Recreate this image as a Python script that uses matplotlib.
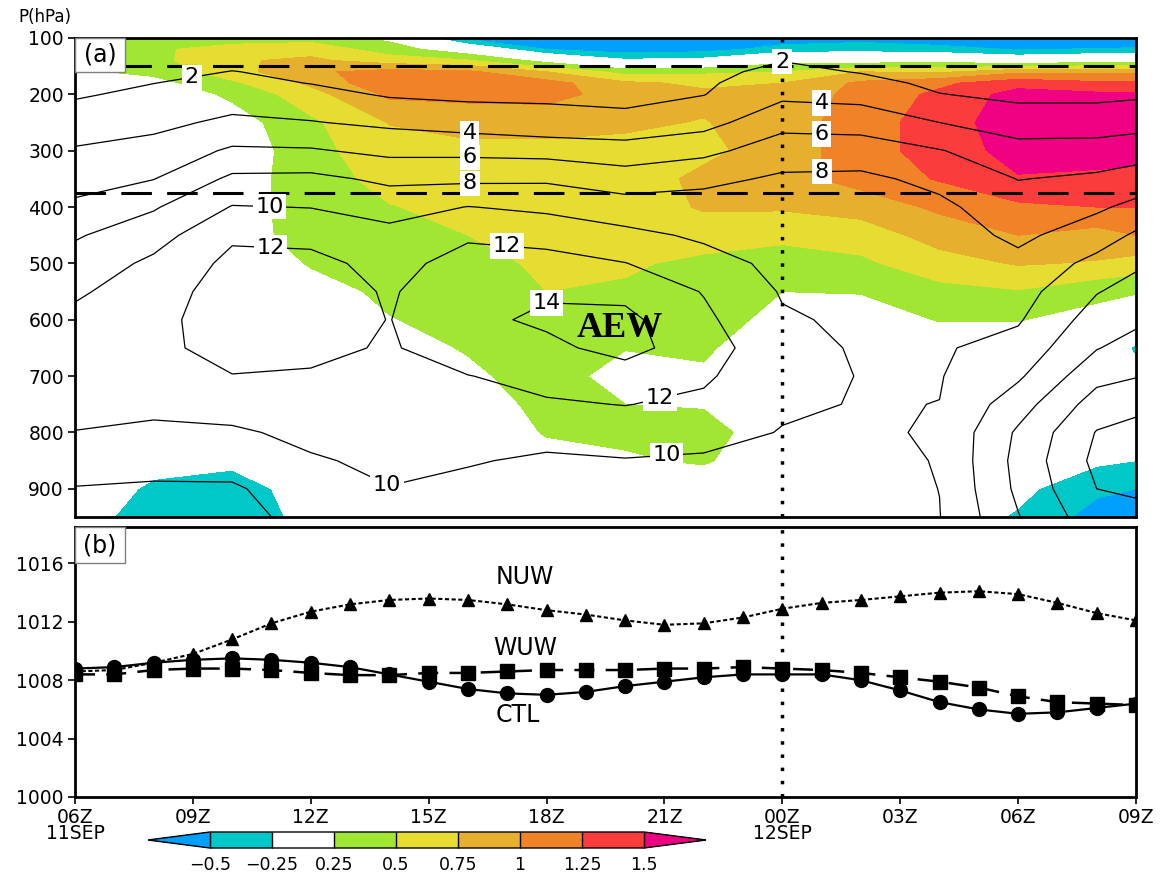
import numpy as np
import matplotlib
matplotlib.use("Agg")
import matplotlib.pyplot as plt
from matplotlib.colors import ListedColormap, BoundaryNorm
from matplotlib.patches import Rectangle

plt.rcParams['font.family'] = ['DejaVu Sans']

# ---------------- data ----------------
# panel (a) grid: hours since 06Z 11SEP, pressure levels (hPa)
hours = [0, 2, 4, 6, 8, 10, 12, 14, 16, 18, 20, 22, 24, 26, 27]
pres = [100, 120, 140, 160, 180, 200, 250, 300, 350, 400, 450, 500,
        550, 600, 650, 700, 750, 800, 850, 900, 950]

# shaded field, one column per time (top -> bottom)
shade_h00 = [0.35, 0.35, 0.3, 0.2, 0.1, 0.05, 0.0, 0.0, 0.0, 0.0, 0.0, 0.0, 0.0, 0.0, 0.0, 0.0, 0.0, 0.0, 0.0, -0.05, -0.1]
shade_h02 = [0.4, 0.45, 0.42, 0.32, 0.15, 0.05, 0.0, 0.0, 0.0, 0.0, 0.0, 0.0, 0.0, 0.0, 0.0, 0.0, 0.0, 0.0, -0.15, -0.3, -0.4]
shade_h04 = [0.35, 0.62, 0.72, 0.65, 0.45, 0.3, 0.12, 0.05, 0.1, 0.12, 0.1, 0.05, 0.0, 0.0, 0.0, 0.0, 0.0, 0.0, -0.2, -0.35, -0.35]
shade_h06 = [0.4, 0.65, 0.8, 0.95, 0.8, 0.65, 0.45, 0.42, 0.4, 0.38, 0.38, 0.27, 0.15, 0.05, 0.0, 0.0, 0.0, 0.0, -0.05, -0.15, -0.2]
shade_h08 = [0.18, 0.38, 0.62, 1.1, 1.2, 1.05, 0.76, 0.65, 0.57, 0.49, 0.42, 0.36, 0.3, 0.24, 0.15, 0.08, 0.0, 0.0, 0.0, -0.05, -0.05]
shade_h10 = [-0.6, 0.05, 0.52, 1.05, 1.15, 1.08, 0.82, 0.7, 0.62, 0.56, 0.5, 0.44, 0.38, 0.32, 0.27, 0.2, 0.1, 0.05, 0.0, 0.0, 0.0]
shade_h12 = [-0.8, -0.5, 0.15, 0.75, 1.1, 1.1, 0.82, 0.7, 0.64, 0.6, 0.56, 0.53, 0.5, 0.45, 0.4, 0.36, 0.33, 0.27, 0.15, 0.05, 0.0]
shade_h14 = [-0.85, -0.65, -0.2, 0.4, 0.8, 0.88, 0.78, 0.7, 0.64, 0.59, 0.55, 0.53, 0.47, 0.33, 0.26, 0.15, 0.25, 0.3, 0.22, 0.05, 0.0]
shade_h16 = [-0.8, -0.6, -0.15, 0.45, 0.7, 0.8, 0.74, 0.7, 0.8, 0.78, 0.6, 0.45, 0.37, 0.32, 0.28, 0.22, 0.23, 0.34, 0.28, 0.08, 0.0]
shade_h18 = [-0.65, -0.4, 0.15, 0.5, 0.75, 0.8, 0.85, 0.85, 0.9, 0.78, 0.56, 0.38, 0.25, 0.2, 0.1, 0.05, 0.05, 0.1, 0.05, 0.0, 0.0]
shade_h20 = [-0.6, -0.35, 0.1, 0.75, 1.05, 1.1, 1.15, 1.15, 1.1, 0.85, 0.62, 0.45, 0.26, 0.15, 0.1, 0.05, 0.0, 0.0, 0.0, 0.0, 0.0]
shade_h22 = [-0.65, -0.42, 0.15, 0.7, 1.2, 1.3, 1.35, 1.35, 1.27, 1.05, 0.85, 0.65, 0.42, 0.26, 0.12, 0.05, 0.0, 0.0, 0.0, -0.05, -0.1]
shade_h24 = [-0.75, -0.52, 0.0, 0.95, 1.4, 1.6, 1.68, 1.6, 1.48, 1.2, 1.0, 0.77, 0.48, 0.26, 0.12, 0.05, 0.0, -0.05, -0.1, -0.18, -0.28]
shade_h26 = [-0.8, -0.48, 0.1, 0.95, 1.3, 1.55, 1.75, 1.66, 1.42, 1.25, 0.9, 0.73, 0.32, 0.15, 0.05, 0.0, -0.05, -0.1, -0.2, -0.45, -0.6]
shade_h27 = [-0.8, -0.45, 0.1, 0.95, 1.3, 1.55, 1.7, 1.6, 1.42, 1.25, 1.0, 0.65, 0.27, 0.05, -0.3, -0.15, -0.08, -0.1, -0.25, -0.5, -0.75]

# contoured field (black lines), one column per time (top -> bottom)
line_h00 = [0.0, 0.4, 0.8, 1.2, 1.5, 1.8, 2.9, 4.2, 5.2, 6.4, 7.8, 8.8, 9.7, 10.5, 11.0, 11.0, 10.6, 9.95, 9.0, 7.9, 7.3]
line_h02 = [0.2, 0.7, 1.1, 1.5, 1.98, 2.4, 3.5, 4.7, 5.95, 7.8, 9.2, 10.4, 11.1, 11.5, 11.6, 11.2, 10.5, 9.6, 8.8, 7.7, 7.2]
line_h04 = [0.3, 0.8, 1.5, 2.05, 2.5, 3.0, 4.4, 6.3, 8.4, 10.1, 11.7, 12.5, 12.9, 12.9, 12.6, 11.95, 10.9, 9.7, 8.95, 7.7, 7.0]
line_h06 = [0.3, 0.8, 1.2, 1.6, 1.95, 2.6, 4.1, 6.2, 8.5, 9.95, 11.4, 12.6, 13.0, 13.0, 12.5, 11.8, 11.0, 10.5, 9.8, 9.3, 9.0]
line_h08 = [0.3, 0.6, 0.9, 1.2, 1.5, 1.8, 3.6, 5.5, 7.6, 9.2, 10.6, 11.3, 11.8, 11.95, 11.8, 11.6, 11.2, 10.8, 10.4, 9.95, 9.6]
line_h10 = [0.2, 0.6, 1.0, 1.3, 1.5, 1.6, 3.1, 5.5, 7.6, 10.05, 11.7, 12.8, 13.3, 13.6, 13.1, 11.95, 11.3, 10.7, 10.15, 9.5, 9.0]
line_h12 = [0.2, 0.5, 0.9, 1.2, 1.4, 1.7, 2.6, 5.3, 7.7, 9.6, 11.3, 12.7, 13.8, 14.3, 13.6, 12.6, 11.8, 10.7, 9.7, 9.1, 8.8]
line_h14 = [0.2, 0.5, 0.8, 1.1, 1.3, 1.5, 2.5, 4.9, 6.9, 8.9, 10.5, 12.05, 13.5, 14.5, 14.6, 13.2, 12.05, 11.0, 9.9, 9.1, 8.8]
line_h16 = [0.3, 0.8, 1.2, 1.5, 1.75, 1.95, 3.3, 5.5, 7.5, 8.9, 9.7, 10.7, 11.9, 12.4, 13.0, 12.3, 11.6, 10.8, 9.7, 8.9, 8.5]
line_h18 = [1.0, 1.5, 1.95, 2.5, 3.0, 3.55, 5.4, 7.0, 8.3, 8.8, 9.2, 9.55, 9.85, 10.2, 10.5, 10.5, 10.3, 9.9, 9.4, 9.0, 8.7]
line_h20 = [0.5, 1.0, 1.5, 1.9, 2.6, 3.3, 5.2, 7.0, 8.4, 9.0, 9.3, 9.5, 9.6, 9.7, 9.85, 9.95, 9.9, 9.7, 9.4, 9.2, 9.0]
line_h22 = [0.2, 0.6, 1.0, 1.3, 1.6, 2.05, 4.0, 6.1, 7.5, 8.4, 8.9, 9.3, 9.5, 9.65, 9.8, 9.9, 10.02, 10.2, 10.1, 10.02, 9.95]
line_h24 = [0.3, 0.7, 1.0, 1.2, 1.4, 1.6, 2.9, 4.8, 5.95, 6.9, 7.6, 8.5, 9.2, 9.8, 10.7, 11.7, 13.1, 14.3, 14.6, 14.4, 13.9]
line_h26 = [0.5, 0.9, 1.2, 1.4, 1.6, 1.65, 2.8, 5.0, 6.3, 7.7, 9.0, 10.6, 11.9, 12.9, 13.9, 15.4, 16.9, 18.1, 18.5, 18.0, 17.2]
line_h27 = [0.0, 0.4, 0.8, 1.1, 1.4, 1.7, 3.3, 5.1, 6.9, 8.5, 10.3, 11.7, 12.7, 13.6, 14.8, 15.9, 17.5, 18.6, 18.8, 18.2, 17.6]

shade_levels = [-0.5, -0.25, 0.25, 0.5, 0.75, 1.0, 1.25, 1.5]
shade_ticklabels = ['\u22120.5', '\u22120.25', '0.25', '0.5', '0.75', '1', '1.25', '1.5']
line_levels = [2, 4, 6, 8, 10, 12, 14, 16, 18]
ref_levels = [150, 375]

# panel (b): hourly series
hourly = list(range(28))
nuw = [1008.6, 1008.7, 1009.2, 1009.8, 1010.8, 1011.9, 1012.7, 1013.2, 1013.5, 1013.6,
       1013.5, 1013.2, 1012.8, 1012.5, 1012.1, 1011.8, 1011.9, 1012.3, 1012.9, 1013.3,
       1013.5, 1013.75, 1014.0, 1014.1, 1013.9, 1013.3, 1012.6, 1012.1]
wuw = [1008.4, 1008.4, 1008.7, 1008.8, 1008.8, 1008.7, 1008.5, 1008.35, 1008.35, 1008.5,
       1008.5, 1008.6, 1008.7, 1008.7, 1008.7, 1008.8, 1008.8, 1008.9, 1008.8, 1008.7,
       1008.5, 1008.2, 1007.9, 1007.5, 1006.9, 1006.5, 1006.4, 1006.3]
ctl = [1008.8, 1008.9, 1009.2, 1009.4, 1009.5, 1009.4, 1009.2, 1008.9, 1008.4, 1007.9,
       1007.4, 1007.1, 1007.0, 1007.2, 1007.6, 1007.9, 1008.2, 1008.4, 1008.4, 1008.4,
       1008.0, 1007.3, 1006.5, 1006.0, 1005.7, 1005.8, 1006.1, 1006.4]

xtick_hours = [0, 3, 6, 9, 12, 15, 18, 21, 24, 27]
xtick_labels = ['06Z\n11SEP', '09Z', '12Z', '15Z', '18Z', '21Z', '00Z\n12SEP', '03Z', '06Z', '09Z']

# ---------------- figure ----------------
W, H = 1164, 876
fig = plt.figure(figsize=(W / 100, H / 100), dpi=100)
ax1 = fig.add_axes([75 / W, 1 - 517 / H, 1061 / W, 479 / H])
ax2 = fig.add_axes([75 / W, 1 - 797 / H, 1061 / W, 270 / H])
cax = fig.add_axes([148 / W, 1 - 848 / H, 558 / W, 16 / H])

shade_cols = [shade_h00, shade_h02, shade_h04, shade_h06, shade_h08, shade_h10, shade_h12,
              shade_h14, shade_h16, shade_h18, shade_h20, shade_h22, shade_h24, shade_h26, shade_h27]
line_cols = [line_h00, line_h02, line_h04, line_h06, line_h08, line_h10, line_h12,
             line_h14, line_h16, line_h18, line_h20, line_h22, line_h24, line_h26, line_h27]
S = np.column_stack(shade_cols)
U = np.column_stack(line_cols)

colors = ['#00c8c8', '#ffffff', '#a0e632', '#e6dc32', '#e6af2d', '#f08228', '#fa3c3c']
cmap = ListedColormap(colors)
cmap.set_under('#00a0ff')
cmap.set_over('#f00082')
norm = BoundaryNorm(shade_levels, cmap.N)

cf = ax1.contourf(hours, pres, S, levels=shade_levels, cmap=cmap, norm=norm, extend='both')
cs = ax1.contour(hours, pres, U, levels=line_levels, colors='k', linewidths=0.9)

label_pos = [(2.93, 152), (18.0, 143),
             (10.05, 260), (19.0, 214),
             (10.05, 312), (19.0, 264),
             (10.05, 358), (19.0, 322),
             (4.96, 383), (7.9, 898), (15.06, 845),
             (5.0, 441), (11.0, 459), (14.96, 761),
             (12.0, 560)]
ax1.clabel(cs, levels=[2, 4, 6, 8, 10, 12, 14], manual=label_pos, inline=False,
           fontsize=16, fmt='%d')
for t in cs.labelTexts:
    t.set_rotation(0)
    t.set_bbox(dict(boxstyle='square,pad=0.12', fc='white', ec='none'))
    t.set_zorder(6)

for lev in ref_levels:
    ax1.axhline(lev, color='k', lw=2.2, ls=(0, (10, 5)), zorder=5)
ax1.axvline(18, color='k', lw=2.5, ls=(0, (1, 2.8)), zorder=5)

ax1.text(13.87, 615, 'AEW', fontsize=26, fontweight='bold', family='Liberation Serif',
         ha='center', va='center', zorder=7)

ax1.set_xlim(0, 27)
ax1.set_ylim(950, 100)
ax1.set_yticks([100, 200, 300, 400, 500, 600, 700, 800, 900])
ax1.tick_params(axis='y', direction='out', length=5, width=1.2, labelsize=13.5, pad=3)
ax1.tick_params(axis='x', length=0, labelbottom=False)
for s in ax1.spines.values():
    s.set_linewidth(2)
    s.set_zorder(8)

ax1.add_patch(Rectangle((0, 1 - 34 / 479), 50 / 1061, 34 / 479, transform=ax1.transAxes,
                        fc='white', ec='gray', lw=1, zorder=9, clip_on=False))
ax1.text(25 / 1061, 1 - 17 / 479, '(a)', transform=ax1.transAxes, ha='center', va='center',
         fontsize=17, zorder=10)
fig.text(45 / W, 1 - 17 / H, 'P(hPa)', ha='center', va='center', fontsize=12)

# panel (b)
ax2.plot(hourly, nuw, color='k', lw=1.5, ls=(0, (2, 1.2)), marker='^', ms=8.5, zorder=3)
ax2.plot(hourly, wuw, color='k', lw=1.8, ls=(0, (8, 4.5)), marker='s', ms=9.5, zorder=3)
ax2.plot(hourly, ctl, color='k', lw=1.6, ls='-', marker='o', ms=10, zorder=4)
ax2.axvline(18, color='k', lw=2.5, ls=(0, (1, 2.8)), zorder=2)
ax2.text(11.45, 1015.1, 'NUW', fontsize=17, ha='center', va='center')
ax2.text(11.45, 1010.2, 'WUW', fontsize=17, ha='center', va='center')
ax2.text(11.27, 1005.6, 'CTL', fontsize=17, ha='center', va='center')

ax2.set_xlim(0, 27)
ax2.set_ylim(1000, 1018.5)
ax2.set_yticks([1000, 1004, 1008, 1012, 1016])
ax2.set_xticks(xtick_hours)
ax2.set_xticklabels(xtick_labels, linespacing=0.8)
ax2.tick_params(axis='both', direction='out', length=5, width=1.2, labelsize=13.5, pad=3)
for s in ax2.spines.values():
    s.set_linewidth(2)
ax2.add_patch(Rectangle((0, 1 - 36 / 270), 50 / 1061, 36 / 270, transform=ax2.transAxes,
                        fc='white', ec='gray', lw=1, zorder=9, clip_on=False))
ax2.text(25 / 1061, 1 - 18 / 270, '(b)', transform=ax2.transAxes, ha='center', va='center',
         fontsize=17, zorder=10)

# colorbar
cb = fig.colorbar(cf, cax=cax, orientation='horizontal', extendfrac=1 / 7,
                  drawedges=True, ticks=shade_levels)
cb.ax.set_xticklabels(shade_ticklabels)
cb.ax.tick_params(length=0, labelsize=12.5, pad=6)
cb.outline.set_linewidth(1)
cb.dividers.set_linewidth(1)

fig.savefig('out.png', dpi=100)
